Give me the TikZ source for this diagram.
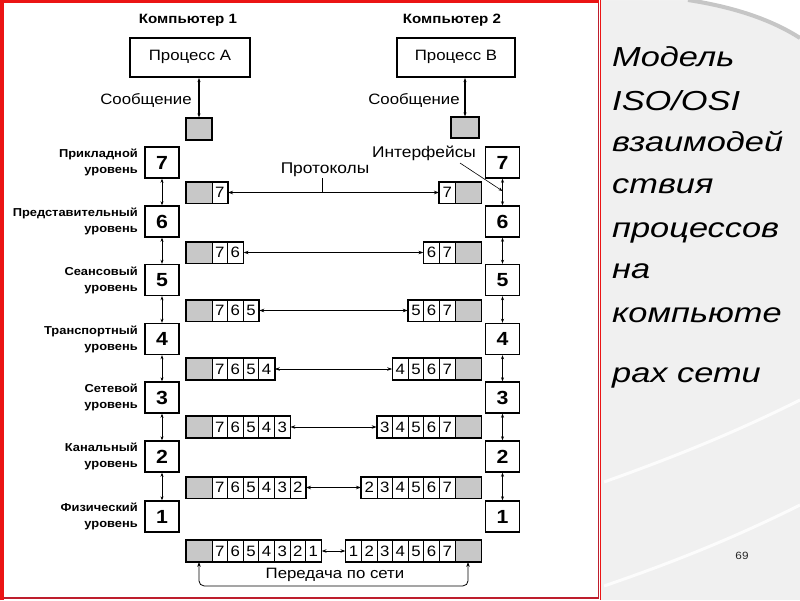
\documentclass[tikz,border=0pt]{standalone}
\usepackage{fontspec}
\setmainfont{Liberation Sans}[FakeStretch=1.12]
\newfontfamily\bigit{Liberation Sans}[FakeStretch=1.25]
\usetikzlibrary{arrows.meta}
\definecolor{frameRed}{RGB}{235,20,20}
\definecolor{frameDark}{RGB}{190,30,45}
\definecolor{panel}{RGB}{240,240,240}
\definecolor{cellGray}{RGB}{200,200,200}
\tikzset{
  lvl/.style={draw, line width=1.4pt, minimum width=34pt, minimum height=31pt, inner sep=0pt, font=\fontsize{19}{19}\selectfont\bfseries},
  cell/.style={draw, line width=0.8pt, minimum width=15.6pt, minimum height=21pt, inner sep=0pt, font=\fontsize{15}{15}\selectfont},
  gcell/.style={cell, fill=cellGray, minimum width=26pt},
  msg/.style={draw, line width=1.2pt, fill=cellGray, inner sep=0pt},
  proc/.style={draw, line width=2pt, inner sep=0pt, font=\fontsize{15}{15}\selectfont},
  tip/.style={Stealth[length=5pt,width=3.5pt]},
  arr/.style={{Stealth[length=5pt,width=3.5pt]}-{Stealth[length=5pt,width=3.5pt]}, line width=0.9pt},
  varr/.style={{Stealth[length=4pt,width=3pt]}-{Stealth[length=4pt,width=3pt]}, line width=0.6pt},
  lab/.style={anchor=east, align=right, inner sep=0pt, font=\fontsize{11.5}{16}\selectfont\bfseries},
  ttl/.style={inner sep=0pt, font=\fontsize{13.5}{14}\selectfont\bfseries},
  txt/.style={inner sep=0pt, font=\fontsize{15.5}{16}\selectfont},
  side/.style={anchor=base west, inner sep=0pt, font=\fontsize{27.5}{28}\bigit\itshape}
}
\begin{document}
\begin{tikzpicture}[x=1pt,y=-1pt]
\useasboundingbox (0,0) rectangle (800,600);
% background
\fill[white] (0,0) rectangle (600,600);
\fill[panel] (600,0) rectangle (800,600);
\fill[white] (600,0) -- (688,0) .. controls (740,8) and (775,22) .. (800,38) -- (800,0) -- cycle;
\draw[gray!45, line width=4pt] (688,0) .. controls (740,8) and (775,22) .. (800,38);
\draw[white, line width=3pt, opacity=0.8] (604,482) .. controls (680,455) and (740,430) .. (800,400);
\draw[white, line width=3pt, opacity=0.8] (604,586) .. controls (680,560) and (740,535) .. (800,505);
% frame
\draw[frameDark, line width=1.2pt] (598.5,2) -- (598.5,598) -- (2,598);
\draw[frameRed, line width=3.5pt] (1.75,600) -- (1.75,1.5) -- (599,1.5);
\draw[frameRed, line width=1pt] (600.5,0) -- (600.5,600);

% titles and processes
\node[ttl] (c1) at (188,20) {Компьютер 1};
\node[ttl] (c2) at (452,20) {Компьютер 2};
\node[proc, minimum width=120pt, minimum height=39pt] (PA) at (190,57.5) {\raisebox{4pt}{Процесс А}};
\node[proc, minimum width=118pt, minimum height=39pt] (PB) at (456,57.5) {\raisebox{4pt}{Процесс В}};
\node[msg, minimum width=26pt, minimum height=22pt] (MA) at (199,129) {};
\node[msg, minimum width=28pt, minimum height=21pt] (MB) at (465,127.5) {};
\draw[varr, line width=1.2pt] (MA.north) -- (MA.north |- PA.south);
\draw[varr, line width=1.2pt] (MB.north) -- (MB.north |- PB.south);
\node[txt, font=\fontsize{15}{15}\selectfont] (sa) at (146,100) {Сообщение};
\node[txt, font=\fontsize{15}{15}\selectfont] (sb) at (414,100) {Сообщение};

% level boxes
\foreach \k/\y/\a/\b in {7/162.5/Прикладной/уровень, 6/221.5/Представительный/уровень, 5/280/Сеансовый/уровень, 4/339/Транспортный/уровень, 3/397.5/Сетевой/уровень, 2/456.5/Канальный/уровень, 1/516.5/Физический/уровень}{
  \node[lvl] (L\k) at (162,\y) {\k};
  \node[lvl] (R\k) at (502.5,\y) {\k};
  \node[lab] (T\k) at (138,\y) {\a\\\b};
}
\foreach \k/\m in {7/6,6/5,5/4,4/3,3/2,2/1}{
  \draw[varr] (L\k.south) -- (L\m.north);
  \draw[varr] (R\k.south) -- (R\m.north);
}

% packets
\foreach \k/\y in {7/192.5,6/252.5,5/310.5,4/369,3/427,2/487.5,1/551}{
  \node[gcell] (lg\k) at (199,\y) {};
  \node[gcell] (rg\k) at (468,\y) {};
  \foreach \j in {7,...,\k}{
    \pgfmathsetmacro{\xl}{212+(7-\j)*15.6+7.8}
    \pgfmathsetmacro{\xr}{455-(7-\j)*15.6-7.8}
    \node[cell] (l\k-\j) at (\xl,\y) {\j};
    \node[cell] (r\k-\j) at (\xr,\y) {\j};
  }
  \draw[line width=1.4pt] (lg\k.north west) rectangle (l\k-\k.south east);
  \draw[line width=1.4pt] (r\k-\k.north west) rectangle (rg\k.south east);
  \draw[arr] (l\k-\k.east) -- (r\k-\k.west);
}

% protocols and interfaces
\node[txt] (prot) at (325,170) {Протоколы};
\coordinate (pt) at (322,192.5);
\draw[line width=0.9pt] (prot.south -| pt) ++(0,1) -- (pt);
\node[txt] (intf) at (424,153) {Интерфейсы};
\coordinate (ifc) at (502.5,191);
\draw[line width=0.6pt, -{Stealth[length=4pt,width=3pt]}] (460,163) -- (ifc);

% network transfer
\draw[arr, line width=0.8pt, rounded corners=5pt] (lg1.south) -- ++(0,24) -| (rg1.south);
\node[txt, font=\fontsize{15}{15}\selectfont] (net) at (335,575) {Передача по сети};

% side title
\node[side] (s1) at (612,66) {Модель};
\node[side] (s2) at (612,110) {ISO/OSI};
\node[side] (s3) at (612,151) {взаимодей};
\node[side] (s4) at (612,193) {ствия};
\node[side] (s5) at (612,237) {процессов};
\node[side] (s6) at (612,278) {на};
\node[side] (s7) at (612,322) {компьюте};
\node[side] (s8) at (612,382) {рах сети};
\node[inner sep=0pt, font=\fontsize{10.5}{11}\selectfont, text=black!85] (pg) at (742,556) {69};
\end{tikzpicture}
\end{document}
